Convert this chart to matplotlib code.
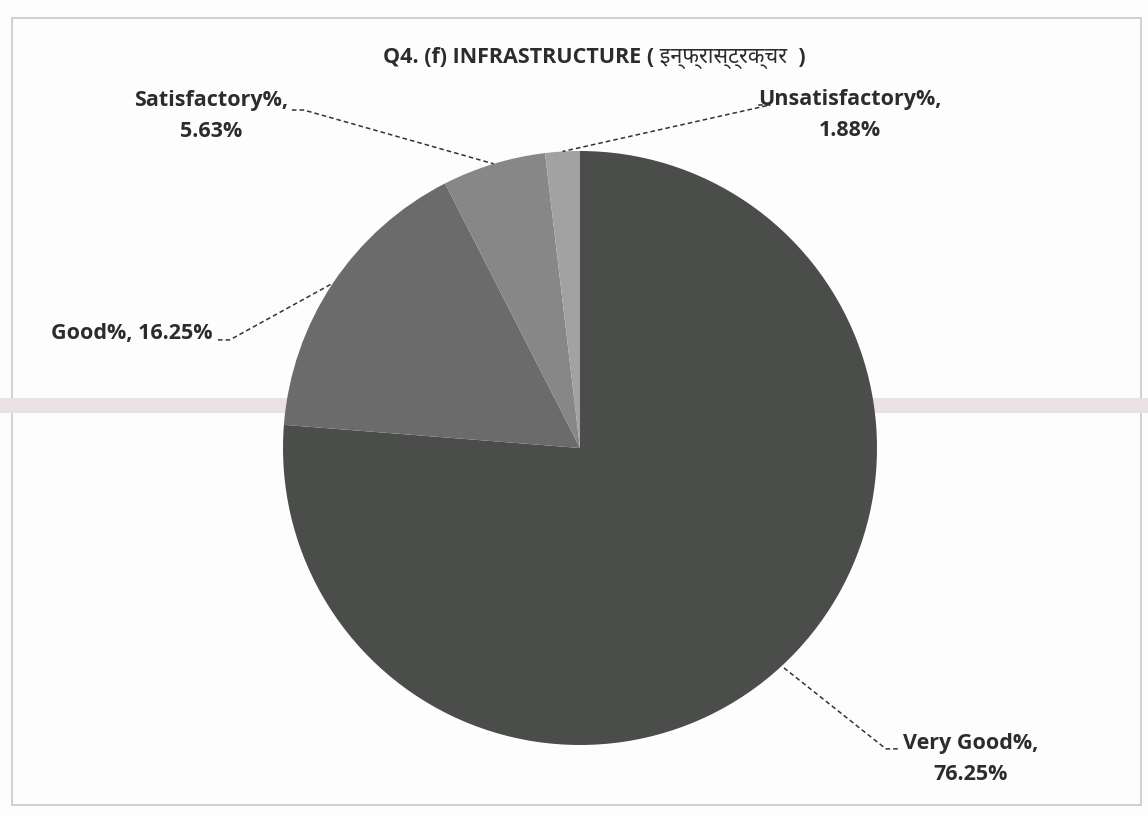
import numpy as np
import matplotlib.pyplot as plt
from matplotlib.patches import Rectangle

categories = ["Very Good%", "Good%", "Satisfactory%", "Unsatisfactory%"]
values = [76.25, 16.25, 5.63, 1.88]
colors = ["#4b4d4b", "#6b6b6b", "#878787", "#a2a2a2"]
title = "Q4. (f) INFRASTRUCTURE ( इन्फ्रास्ट्रक्चर  )"

# label text centres (data units, pie radius = 1)
label_pos = [(1.316, -1.047), (-1.508, 0.387), (-1.242, 1.118), (0.909, 1.121)]
two_line = [True, False, True, True]
# where the leader line leaves the label
leader_start = [(1.07, -1.013), (-1.219, 0.364), (-0.97, 1.138), (0.60, 1.155)]

plt.rcParams['font.family'] = ['Open Sans', 'Noto Sans Devanagari', 'DejaVu Sans']

fig = plt.figure(figsize=(11.48, 8.17), dpi=100)
ax = fig.add_axes([0, 0, 1, 1])

# scan artefacts: page frame and the pink band behind the chart
fig.patches.append(Rectangle((12 / 1148, 12 / 817), 1129 / 1148, 787 / 817,
                             transform=fig.transFigure, fill=False,
                             edgecolor="#c9c9c9", lw=1.2, zorder=-2))
fig.patches.append(Rectangle((0, (817 - 413) / 817), 1, 15 / 817,
                             transform=fig.transFigure, color="#ebe0e4",
                             lw=0, zorder=-1))

wedges, _ = ax.pie(values, colors=colors, startangle=90, counterclock=False,
                   radius=1, center=(0, 0), wedgeprops=dict(linewidth=0))

for i, w in enumerate(wedges):
    mid = np.deg2rad((w.theta1 + w.theta2) / 2)
    px, py = np.cos(mid), np.sin(mid)
    if two_line[i]:
        txt = f"{categories[i]},\n{values[i]:.2f}%"
    else:
        txt = f"{categories[i]}, {values[i]:.2f}%"
    lx, ly = label_pos[i]
    ax.text(lx, ly, txt, ha="center", va="center", fontsize=15.5,
            fontweight="bold", color="#2c2c2c", linespacing=1.6, zorder=5)
    sx, sy = leader_start[i]
    ex = sx + (0.04 if px < 0 else -0.04)
    ax.plot([sx, ex, px], [sy, sy, py], color="#333333", lw=1.1,
            ls=(0, (3, 2)), zorder=4)

ax.text(-0.663, 1.313, title, ha="left", va="center", fontsize=15.5,
        fontweight="bold", color="#2c2c2c")

ax.set_xlim(-580 / 297, (1148 - 580) / 297)
ax.set_ylim(-(817 - 448) / 297, 448 / 297)
ax.axis("off")

fig.savefig("out.png", dpi=100, facecolor="#fdfdfd")
